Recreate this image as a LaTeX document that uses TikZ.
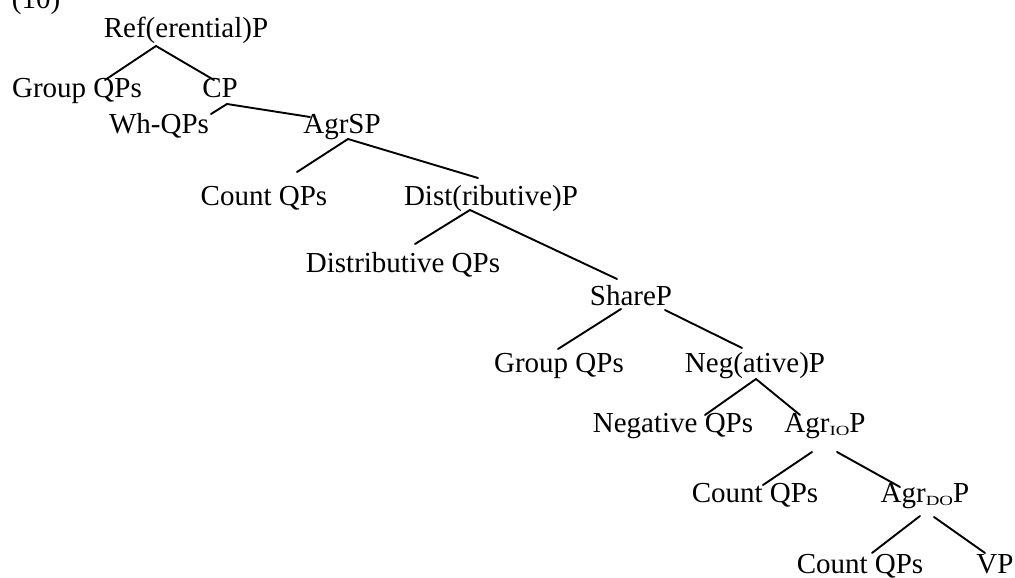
\documentclass[tikz,border=0pt]{standalone}
\usepackage{fontspec}
\setmainfont{Liberation Serif}
\usetikzlibrary{calc}
\newcommand{\subsc}[1]{\raisebox{-3pt}{\scalebox{1.35}[1.0]{\fontsize{14}{14}\selectfont #1}}}
\begin{document}
\begin{tikzpicture}[x=1pt,y=-1pt,
  lbl/.style={font=\fontsize{29}{34}\selectfont, inner sep=0pt, anchor=base, text height=20pt, text depth=6pt},
  br/.style={line width=1.9pt, line cap=round}]
\useasboundingbox (0,0) rectangle (1015,578);
\clip (0,0) rectangle (1015,578);
% labels
\node[lbl] (num)   at (36,9)    {(10)};
\node[lbl] (ref)   at (186,38)  {Ref(erential)P};
\node[lbl] (g1)    at (77,98)   {Group QPs};
\node[lbl] (cp)    at (220,98)  {CP};
\node[lbl] (wh)    at (159,133) {Wh-QPs};
\node[lbl] (agrs)  at (342,133) {AgrSP};
\node[lbl] (c1)    at (264,205) {Count QPs};
\node[lbl] (dist)  at (491,205) {Dist(ributive)P};
\node[lbl] (dq)    at (403,272) {Distributive QPs};
\node[lbl] (share) at (631,305) {ShareP};
\node[lbl] (g2)    at (559,372) {Group QPs};
\node[lbl] (neg)   at (755,372) {Neg(ative)P};
\node[lbl] (nq)    at (673,432) {Negative QPs};
\node[lbl] (aio)   at (825,432) {Agr\subsc{IO}P};
\node[lbl] (c3)    at (755,502) {Count QPs};
\node[lbl] (ado)   at (925,502) {Agr\subsc{DO}P};
\node[lbl] (c4)    at (860,573) {Count QPs};
\node[lbl] (vp)    at (995,573) {VP};
% branches
\draw[br] ($(ref.base)+(-30,8)$) -- ($(g1.base)+(28,-18)$);
\draw[br] ($(ref.base)+(-30,8)$) -- ($(cp.base)+(-6,-18)$);
\draw[br] ($(cp.base)+(7,6)$) -- ($(wh.base)+(52,-19)$);
\draw[br] ($(cp.base)+(7,6)$) -- ($(agrs.base)+(-32,-16)$);
\draw[br] ($(agrs.base)+(6,6)$) -- ($(c1.base)+(33,-33)$);
\draw[br] ($(agrs.base)+(6,6)$) -- ($(dist.base)+(-13,-27)$);
\draw[br] ($(dist.base)+(-21,5)$) -- ($(dq.base)+(12,-28)$);
\draw[br] ($(dist.base)+(-21,5)$) -- ($(share.base)+(-14,-26)$);
\draw[br] ($(share.base)+(-10,4)$) -- ($(g2.base)+(-1,-23)$);
\draw[br] ($(share.base)+(34,5)$) -- ($(neg.base)+(-13,-24)$);
\draw[br] ($(neg.base)+(1,7)$) -- ($(nq.base)+(32,-17)$);
\draw[br] ($(neg.base)+(1,7)$) -- ($(aio.base)+(-25,-17)$);
\draw[br] ($(aio.base)+(-13,20)$) -- ($(c3.base)+(8,-17)$);
\draw[br] ($(aio.base)+(12,20)$) -- ($(ado.base)+(-25,-15)$);
\draw[br] ($(ado.base)+(-5,14)$) -- ($(c4.base)+(12,-20)$);
\draw[br] ($(ado.base)+(9,15)$) -- ($(vp.base)+(-10,-20)$);
\end{tikzpicture}
\end{document}
